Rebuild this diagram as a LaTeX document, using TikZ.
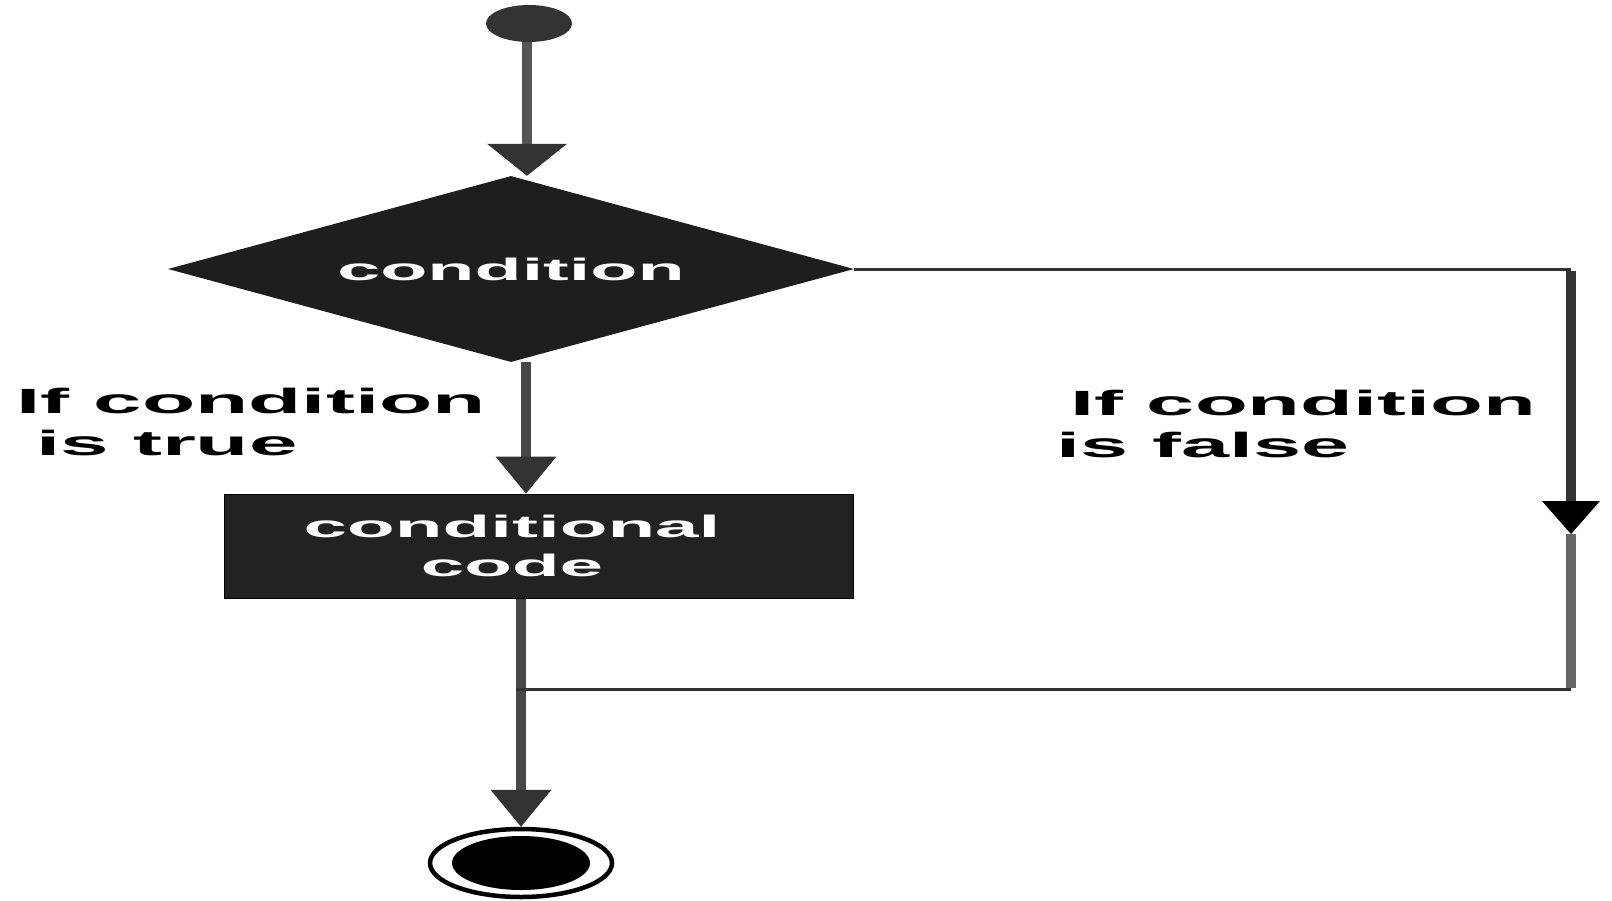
\documentclass[tikz,border=0pt]{standalone}
\usepackage{fontspec}
\setmainfont{Liberation Sans}
\usetikzlibrary{shapes.geometric,arrows.meta}
\definecolor{shapefill}{HTML}{1E1E1E}
\definecolor{boxfill}{HTML}{222222}
\definecolor{linegray}{HTML}{474747}
\definecolor{topgray}{HTML}{555555}
\definecolor{lowgray}{HTML}{666666}
\definecolor{tipgray}{HTML}{333333}
\definecolor{thingray}{HTML}{333333}
\begin{document}
\begin{tikzpicture}[x=1pt,y=-1pt,
  vline/.style={line width=10pt, draw=linegray},
  hline/.style={line width=3pt, draw=thingray},
  wtext/.style={text=white, font=\fontsize{31}{39}\selectfont\bfseries, align=center, inner sep=0pt},
  lbl/.style={text=black, font=\fontsize{35}{42}\selectfont\bfseries, align=left, inner sep=0pt},
  tipsmall/.style={-{Triangle[width=61pt,length=37pt,line width=0pt,color=tipgray]}},
  tipbig/.style={-{Triangle[width=80pt,length=32pt,line width=0pt,color=tipgray]}},
  tipright/.style={-{Triangle[width=58pt,length=33pt,line width=0pt,color=black]}}]
\useasboundingbox (0,0) rectangle (1612,900);

% nodes
\node[ellipse, fill=tipgray, minimum width=86pt, minimum height=37pt, inner sep=0pt] (start) at (529,23.5) {};
\node[diamond, fill=shapefill, minimum width=686pt, minimum height=186pt, aspect=3.69, inner sep=0pt,
      text=white, font=\fontsize{31}{36}\selectfont\bfseries] (dia) at (511,269) {\scalebox{2.49}[1]{condition}};
\node[rectangle, fill=boxfill, draw=black, line width=1pt, minimum width=629pt, minimum height=104pt, inner sep=0pt] (box) at (538.5,546) {};
\node[wtext] (boxtext) at (512,546) {\scalebox{2.52}[1]{conditional}\\\scalebox{2.52}[1]{code}};
\node[ellipse, draw=black, line width=4.5pt, fill=white, minimum width=182pt, minimum height=68pt, inner sep=0pt] (endo) at (521,863) {};
\node[ellipse, fill=black, minimum width=138pt, minimum height=54pt, inner sep=0pt] (endi) at (521,863) {};

% labels
\node[lbl, anchor=north west] (ltrue) at (16,388) {\scalebox{2.49}[1]{If condition}\\\hspace*{20pt}\scalebox{2.49}[1]{is true}};
\node[lbl, anchor=north west] (lfalse) at (1056,390) {\hspace*{14pt}\scalebox{2.47}[1]{If condition}\\\scalebox{2.47}[1]{is false}};

% coordinates for the loop
\coordinate (rt) at (1571,269);
\coordinate (rm) at (1571,534);
\coordinate (rb) at (1571,689);
\coordinate (join) at (521,689);

% main flow
\draw[vline, draw=topgray, tipbig] ([xshift=-2pt]start.south) -- ([xshift=-2pt]start.south |- dia.north);
\draw[vline, tipsmall] ([xshift=15pt]dia.south) -- ([xshift=15pt]dia.south |- box.north);
\draw[vline] (box.south -| join) -- (join);
\draw[vline, tipsmall] (join) -- (endo.north);

% false branch
\draw[hline] (dia.east) -- (rt);
\draw[vline, draw=tipgray, tipright] ([yshift=-1.5pt]rt) -- (rm);
\draw[vline, draw=lowgray] (rm) -- ([yshift=1.5pt]rb);
\draw[hline] (rb) -- ([xshift=-5pt]join);
\end{tikzpicture}
\end{document}
